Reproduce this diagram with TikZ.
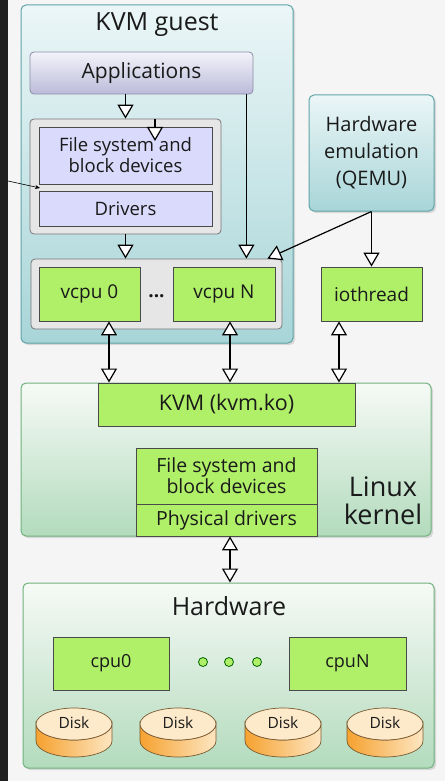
\documentclass[tikz,border=0pt]{standalone}
\usepackage{fontspec}
\setmainfont{Open Sans}
\usepackage{tikz}
\usetikzlibrary{arrows.meta,shadows}

\definecolor{guestline}{HTML}{5FA4A6}
\definecolor{guesttop}{HTML}{EBF6F7}
\definecolor{guestbot}{HTML}{A8D5D8}
\definecolor{appline}{HTML}{8C8CA6}
\definecolor{apptop}{HTML}{F3F3FB}
\definecolor{appbot}{HTML}{BBBBDA}
\definecolor{grayline}{HTML}{777777}
\definecolor{graybg}{HTML}{E6E6E6}
\definecolor{lavender}{HTML}{DADAFC}
\definecolor{darkline}{HTML}{4A4A4A}
\definecolor{lime}{HTML}{B0F068}
\definecolor{kernline}{HTML}{6FB27C}
\definecolor{kerntop}{HTML}{F6FAF6}
\definecolor{kernbot}{HTML}{B3DBBD}
\definecolor{diskdark}{HTML}{F6A230}
\definecolor{disklight}{HTML}{FDE6C2}
\definecolor{disktop}{HTML}{FDEACB}
\definecolor{diskline}{HTML}{7A5A30}
\definecolor{txt}{HTML}{1A1A1A}

\tikzset{
  bigbox/.style={rounded corners=5pt, line width=1pt,
    drop shadow={shadow xshift=2pt, shadow yshift=-2pt, opacity=0.25}},
  guestbox/.style={bigbox, draw=guestline, top color=guesttop, bottom color=guestbot},
  layerbox/.style={bigbox, draw=kernline, top color=kerntop, bottom color=kernbot},
  appbox/.style={rounded corners=4pt, line width=0.8pt, draw=appline, top color=apptop, bottom color=appbot},
  graybox/.style={rounded corners=4pt, line width=0.8pt, draw=grayline, fill=graybg},
  lavbox/.style={line width=0.8pt, draw=darkline, fill=lavender},
  greenbox/.style={line width=0.8pt, draw=darkline, fill=lime},
  flow/.style={line width=1.2pt, -{Triangle[width=16pt, length=14pt, fill=white]}},
  twoway/.style={line width=1.2pt, {Triangle[width=16pt, length=14pt, fill=white]}-{Triangle[width=16pt, length=14pt, fill=white]}},
  thinflow/.style={line width=0.6pt, -{Stealth[length=5pt, width=4pt]}},
  every node/.style={text=txt, inner sep=0pt}
}

\begin{document}
\begin{tikzpicture}[x=1pt, y=-1pt]
  %\draw [help lines, step=20] (0,0) grid (445,781);
  \useasboundingbox (0,0) rectangle (445,781);
  \fill[white!96!black] (0,0) rectangle (445,781);
  \fill[black!88] (0,0) rectangle (8,781);

  % guest
  \node[guestbox, minimum width=272pt, minimum height=338pt] (guest) at (157,174) {};
  \node[font=\fontsize{25}{28}\selectfont] (guesttitle) at (157,25) {KVM guest};
  \node[appbox, minimum width=223pt, minimum height=42pt, font=\fontsize{21}{24}\selectfont] (apps) at (141.5,73) {Applications};
  \node[graybox, minimum width=191pt, minimum height=115pt] (fsgroup) at (125.5,176.5) {};
  \node[lavbox, minimum width=173pt, minimum height=57pt, align=center, font=\fontsize{18.5}{21}\selectfont] (guestfs) at (125.5,155.5) {File system and\\block devices};
  \node[lavbox, minimum width=173pt, minimum height=35pt, font=\fontsize{18.5}{21}\selectfont] (drivers) at (125.5,208.5) {Drivers};
  \node[graybox, minimum width=251pt, minimum height=70pt] (vcpugroup) at (156.5,294) {};
  \node[greenbox, minimum width=101pt, minimum height=54pt, font=\fontsize{19}{21}\selectfont] (vcpu0) at (89.5,294) {vcpu 0};
  \node[greenbox, minimum width=102pt, minimum height=54pt, font=\fontsize{19}{21}\selectfont] (vcpuN) at (224,294) {vcpu N};
  \node[anchor=base, font=\fontsize{19}{21}\selectfont\bfseries] (dots) at (156.5,297) {...};

  % qemu
  \node[guestbox, minimum width=125pt, minimum height=116pt, align=center, font=\fontsize{20}{27}\selectfont] (qemu) at (371.5,153) {Hardware\\emulation\\(QEMU)};
  \node[greenbox, minimum width=101pt, minimum height=54pt, font=\fontsize{19}{21}\selectfont] (iothread) at (371.5,294) {iothread};

  % host kernel
  \node[layerbox, minimum width=410pt, minimum height=153pt] (kernel) at (226,459.5) {};
  \node[greenbox, minimum width=257pt, minimum height=43pt, font=\fontsize{21.5}{24}\selectfont] (kvm) at (226.5,404.5) {KVM (kvm.ko)};
  \node[greenbox, minimum width=181pt, minimum height=56pt, align=center, font=\fontsize{19.5}{21}\selectfont] (kernfs) at (226.5,476) {File system and\\block devices};
  \node[greenbox, minimum width=181pt, minimum height=32pt, font=\fontsize{19.5}{21}\selectfont] (physdrv) at (226.5,520) {Physical drivers};
  \node[align=center, font=\fontsize{27}{28}\selectfont] (linuxlabel) at (383,501) {Linux\\kernel};

  % hardware
  \node[layerbox, minimum width=411pt, minimum height=185pt] (hardware) at (228.5,675.5) {};
  \node[font=\fontsize{25}{28}\selectfont] (hwtitle) at (229,606) {Hardware};
  \node[greenbox, minimum width=116pt, minimum height=53pt, font=\fontsize{18}{21}\selectfont] (cpu0) at (111,663.5) {cpu0};
  \node[greenbox, minimum width=117pt, minimum height=53pt, font=\fontsize{18}{21}\selectfont] (cpuN) at (347.5,663.5) {cpuN};
  \foreach \x/\n in {203/1, 229/2, 257/3}
    \node[circle, draw=green!40!black, fill=lime, line width=0.8pt, minimum size=9pt] (dot\n) at (\x,662) {};
  \foreach \x/\n in {74/1, 178/2, 283/3, 385/4} {
    \draw[diskline, line width=0.7pt, left color=diskdark, right color=disklight]
      (\x-38,724) -- (\x-38,741) arc[start angle=180, end angle=360, x radius=38pt, y radius=16pt]
      -- (\x+38,724) arc[start angle=0, end angle=-180, x radius=38pt, y radius=16pt] -- cycle;
    \draw[diskline, line width=0.7pt, fill=disktop] (\x,724) ellipse [x radius=38pt, y radius=16pt];
    \node[font=\fontsize{15.5}{18}\selectfont] (disk\n) at (\x,723) {Disk};
  }

  % connectors
  \draw[flow] (fsgroup.north |- apps.south) -- (fsgroup.north);
  \coordinate (fsmark) at (155,141);
  \draw[flow] (fsmark |- fsgroup.north) -- (fsmark);
  \coordinate (outside) at (8,181);
  \coordinate (fsin) at (40,188);
  \draw[thinflow] (outside) -- (fsin);
  \draw[flow] (fsgroup.south) -- (fsgroup.south |- vcpugroup.north);
  \draw[flow] ([xshift=-7pt]apps.south east) -- ([xshift=-7pt]apps.south east |- vcpugroup.north);
  \draw[flow] (qemu.south) -- (iothread.north);
  \draw[flow] (qemu.south) -- ([xshift=-15pt]vcpugroup.north east);
  \draw[twoway] ([xshift=19.5pt]vcpu0.south) -- ([xshift=19.5pt]vcpu0.south |- kernel.north);
  \draw[twoway] ([xshift=6pt]vcpuN.south) -- ([xshift=6pt]vcpuN.south |- kernel.north);
  \draw[twoway] ([xshift=-32.5pt]iothread.south) -- ([xshift=-32.5pt]iothread.south |- kernel.north);
  \draw[twoway] ([xshift=3.5pt]physdrv.south) -- ([xshift=3.5pt]physdrv.south |- hardware.north);
\end{tikzpicture}
\end{document}
